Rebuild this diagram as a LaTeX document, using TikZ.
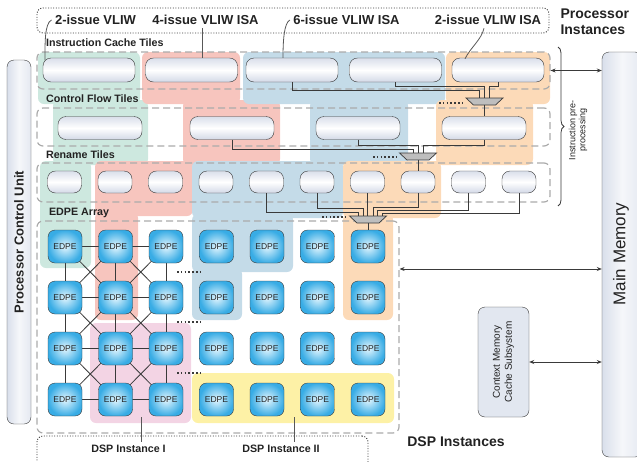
\documentclass[tikz,border=0pt]{standalone}
\usepackage{fontspec}
\setmainfont{Liberation Sans}
\usetikzlibrary{arrows.meta, positioning, calc, decorations.pathreplacing}
\definecolor{linec}{HTML}{3A3A3A}
\definecolor{dashc}{HTML}{ABABAB}
\definecolor{textc}{HTML}{222222}
\definecolor{greenc}{HTML}{CDE8DF}
\definecolor{redc}{HTML}{F7C5BE}
\definecolor{bluec}{HTML}{C4DBE8}
\definecolor{orangec}{HTML}{FCDAB8}
\definecolor{pinkc}{HTML}{F3D4E4}
\definecolor{yellowc}{HTML}{FDF1A6}
\definecolor{tilec}{HTML}{D3D9E7}
\definecolor{edpec}{HTML}{38ACE5}
\definecolor{edpein}{HTML}{E4F6FE}
\definecolor{muxc}{HTML}{BEBEBE}
\definecolor{unitc}{HTML}{D9DFEB}
\pgfdeclarelayer{back}
\pgfsetlayers{back,main}

\begin{document}
\begin{tikzpicture}[x=1pt, y=-1pt, >={Stealth[length=5pt,width=4pt]}, line width=0.8pt,
    tile/.style={draw=linec, rounded corners=8pt, top color=tilec!85, bottom color=tilec,
      middle color=white, inner sep=0pt, minimum height=24pt},
    edpe/.style={draw=linec, rounded corners=7pt, inner color=edpein, outer color=edpec,
      minimum width=34pt, minimum height=33pt, inner sep=0pt, text=textc,
      font=\fontsize{8.5}{9}\selectfont},
    tilearea/.style={draw=dashc, line width=1.2pt, dash pattern=on 7pt off 4pt,
      rounded corners=6pt, inner sep=0pt},
    dotbox/.style={draw=linec, line width=0.9pt, dash pattern=on 1pt off 1.6pt,
      rounded corners=6pt, inner sep=0pt},
    unit/.style={draw=linec, rounded corners=7pt, left color=unitc,
      right color=unitc!70, middle color=unitc!25},
    title/.style={text=textc, font=\bfseries\fontsize{10.7}{12}\selectfont},
    toplab/.style={text=textc, font=\bfseries\fontsize{13}{15}\selectfont},
    big/.style={text=textc, font=\bfseries\fontsize{14}{16}\selectfont, align=left},
    leader/.style={draw=linec!85, line width=0.8pt},
    wire/.style={draw=linec, line width=0.8pt},
    mux/.style={draw=linec, fill=muxc, line width=0.7pt},
    dots/.style={draw=linec, line width=1.4pt, dash pattern=on 1.6pt off 2.2pt},
    conn/.style={draw=linec, line width=0.8pt, <->},
    region/.style={rounded corners=6pt}]
  \useasboundingbox (0,0) rectangle (637,461);
  \clip (0,0) rectangle (637,461);

  % instance regions
  \begin{pgfonlayer}{back}
    \fill[greenc, region] (38,52) rectangle (140,104) (53,100) rectangle (148,165)
      (40,161) rectangle (91,268);
    \fill[redc, region] (142,52) rectangle (240,104) (183,100) rectangle (280,165)
      (95,161) rectangle (193,216) (95,212) rectangle (138,320);
    \fill[bluec, region] (243,52) rectangle (445,104) (310,100) rectangle (408,165)
      (192,161) rectangle (343,218) (192,214) rectangle (293,272)
      (192,268) rectangle (242,320);
    \fill[orangec, region] (446,52) rectangle (550,104) (436,100) rectangle (533,165)
      (343,161) rectangle (441,218) (343,214) rectangle (393,320);
    \fill[pinkc, region] (90,323) rectangle (191,423);
    \fill[yellowc, region] (192,373) rectangle (394,423);
  \end{pgfonlayer}

  % tile areas
  \node[tilearea, minimum width=513pt, minimum height=37pt] (icarea) at (293.5,70.5) {};
  \node[tilearea, minimum width=513pt, minimum height=38pt] (cfarea) at (293.5,127) {};
  \node[tilearea, minimum width=513pt, minimum height=39pt] (rnarea) at (293.5,182.5) {};
  \node[tilearea, minimum width=362pt, minimum height=212pt] (arr) at (218,327) {};
  \node[title, anchor=west] (ictitle) at (42.5,43) {Instruction Cache Tiles};
  \node[title, anchor=west] (cftitle) at (42.5,99) {Control Flow Tiles};
  \node[title, anchor=west] (rntitle) at (42.5,155) {Rename Tiles};
  \node[title, anchor=west] (arrtitle) at (45.5,213) {EDPE Array};

  % tiles
  \foreach \i/\x in {1/89, 2/191.5, 3/292, 4/395.5, 5/498}
    \node[tile, minimum width=92pt] (ic\i) at (\x,70) {};
  \foreach \i/\x in {1/100, 2/232, 3/358, 4/484}
    \node[tile, minimum width=84pt, minimum height=23pt] (cf\i) at (\x,128) {};
  \foreach \i in {1,...,10}
    \node[tile, minimum width=34pt, minimum height=22pt] (rn\i) at ({64.5+50.5*(\i-1)},182) {};

  % EDPE array
  \foreach \r in {1,...,4}
    \foreach \c in {1,...,7}
      \node[edpe] (e\r\c) at ({65+50.5*(\c-1)},{246.5+51*(\r-1)}) {EDPE};
  \begin{pgfonlayer}{back}
    \foreach \r in {1,...,4}
      \foreach \c/\d in {1/2,2/3}
        \draw[wire] (e\r\c.center) -- (e\r\d.center);
    \foreach \r/\s in {1/2,2/3,3/4}{
      \foreach \c in {1,2,3}
        \draw[wire] (e\r\c.center) -- (e\s\c.center);
      \foreach \c/\d in {1/2,2/3}{
        \draw[wire] (e\r\c.center) -- (e\s\d.center);
        \draw[wire] (e\r\d.center) -- (e\s\c.center);
      }
    }
  \end{pgfonlayer}
  \foreach \y in {272,322,373}
    \draw[dots] (177,\y) -- (200,\y);

  % muxes
  \foreach \m/\x/\y in {1/484.5/98, 2/418/153, 3/368/216}{
    \draw[mux] (\x-18.5,\y) -- (\x+18.5,\y) -- (\x+11,\y+7) -- (\x-11,\y+7) -- cycle;
    \coordinate (mux\m) at (\x,\y);
    \coordinate (muxout\m) at (\x,\y+7);
  }
  \draw[dots] (439,103) -- (462,103);
  \draw[dots] (373,157) -- (397,157);
  \draw[dots] (322,217) -- (345,217);

  % wiring
  \draw[wire] (ic3.south) -- ++(0,8) -| ([xshift=-5pt]mux1);
  \draw[wire] (ic4.south) -- ++(0,4) -| (mux1);
  \draw[wire] (ic5.south) -- ++(0,4) -| ([xshift=5pt]mux1);
  \draw[wire] (muxout1) -- (muxout1 |- cf4.north);
  \draw[wire] (cf2.south) -- ++(0,10) -| ([xshift=-5pt]mux2);
  \draw[wire] (cf3.south) -- ++(0,6) -| (mux2);
  \draw[wire] (cf4.south) -- ++(0,6) -| ([xshift=5pt]mux2);
  \draw[wire] (muxout2) -- (muxout2 |- rn8.north);
  \draw[wire] (rn5.south) -- ++(0,19) -| ([xshift=-10pt]mux3);
  \draw[wire] (rn6.south) -- ++(0,15) -| ([xshift=-5pt]mux3);
  \draw[wire] (rn7.south) -- (rn7.south |- mux3);
  \draw[wire] (rn8.south) -- ++(0,14) -| ([xshift=5pt]mux3);
  \draw[wire] (rn9.south) -- ++(0,17) -| ([xshift=9.5pt]mux3);
  \draw[wire] (rn10.south) -- ++(0,20) -| ([xshift=14pt]mux3);
  \draw[wire] (muxout3) -- (muxout3 |- e17.north);

  % ISA labels
  \node[dotbox, minimum width=512pt, minimum height=25pt] (isabox) at (293,20.5) {};
  \node[toplab] (lab1) at (95.5,20) {2-issue VLIW};
  \node[toplab] (lab2) at (205.5,20) {4-issue VLIW ISA};
  \node[toplab] (lab3) at (346.5,20) {6-issue VLIW ISA};
  \node[toplab] (lab4) at (488,20) {2-issue VLIW ISA};
  \draw[leader] (lab1.west) .. controls +(-7,3) and +(0,-16) .. ([xshift=-44pt,yshift=-2.5pt]ic1.north);
  \draw[leader] ([xshift=-3.5pt]lab2.south) -- ([xshift=-3.5pt]lab2.south |- ic2.north);
  \draw[leader] (lab3.west) .. controls +(-6,3) and +(0,-16) .. ([xshift=-9pt]ic3.north);
  \draw[leader] ([xshift=-4pt]lab4.south) .. controls +(-3,12) and +(6,-12) .. ([xshift=-33pt,yshift=-1pt]ic5.north);
  \node[big, anchor=west] (pinst) at (557,22) {Processor\\Instances};

  % DSP instances
  \node[dotbox, minimum width=331pt, minimum height=40pt] (dspbox) at (202.5,456) {};
  \node[title] (dsp1) at (128.5,449) {DSP Instance I};
  \node[title] (dsp2) at (281,449) {DSP Instance II};
  \draw[leader] ([xshift=12.5pt]dsp1.north) -- ++(0,-25);
  \draw[leader] ([xshift=13pt]dsp2.north) -- ++(0,-25);
  \node[big] (dspinst) at (456,442) {DSP Instances};

  % control unit and memories
  \node[unit, minimum width=24pt, minimum height=364pt] (pcu) at (19,242) {};
  \node[rotate=90, text=textc, font=\bfseries\fontsize{13}{15}\selectfont] (pcutext) at (pcu) {Processor Control Unit};
  \node[unit, minimum width=40pt, minimum height=405pt] (mem) at (622,254.5) {};
  \node[rotate=90, text=textc, font=\fontsize{17}{20}\selectfont] (memtext) at (621,254) {Main Memory};
  \node[draw=linec, rounded corners=7pt, fill=unitc!75, minimum width=51pt, minimum height=110pt] (cms) at (503.5,362) {};
  \node[rotate=90, align=center, text=textc, font=\fontsize{10}{12}\selectfont] (cmstext) at (cms) {Context Memory\\Cache Subsystem};
  \draw[conn] (icarea.east) -- (icarea.east -| mem.west);
  \draw[conn] ([yshift=58pt]arr.east) -- ([yshift=58pt]arr.east -| mem.west);
  \draw[conn] (cms.east) -- (cms.east -| mem.west);

  % pre-processing brace
  \coordinate (bt) at (558,47);
  \coordinate (bb) at (558,206);
  \draw[linec, line width=0.8pt, decorate, decoration={brace, amplitude=6pt}] (bt) -- (bb);
  \node[rotate=90, align=center, text=textc, font=\fontsize{9}{10}\selectfont] (pretext) at (578,130) {Instruction pre-\\processing};
\end{tikzpicture}
\end{document}
